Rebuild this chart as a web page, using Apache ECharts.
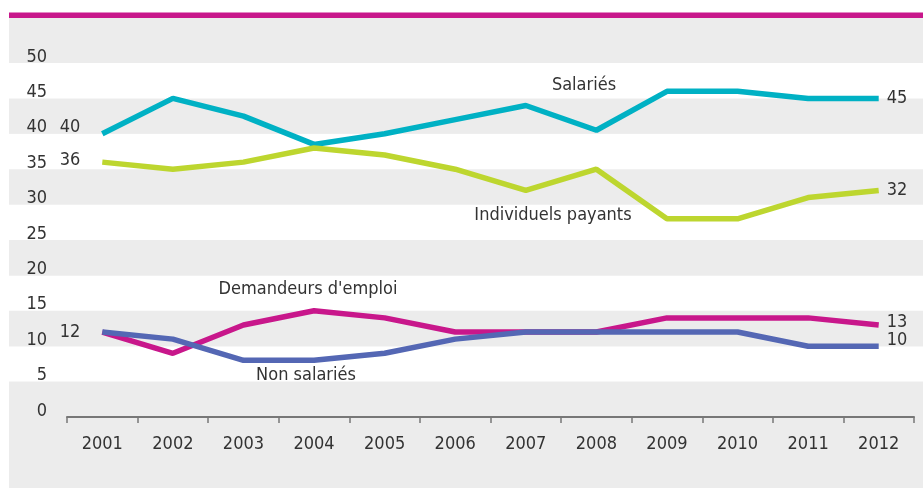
<!DOCTYPE html>
<html style="height: 100%">

<head>
  <meta charset="utf-8">
</head>

<body style="height: 100%; margin: 0">
  <div id="container" style="width: 923px; height: 488px"></div>
  <script type="text/javascript" src="https://cdn.jsdelivr.net/npm/echarts@6/dist/echarts.min.js"></script>
  <script type="text/javascript">
    var years = ['2001', '2002', '2003', '2004', '2005', '2006', '2007', '2008', '2009', '2010', '2011', '2012'];
    var salaries = [40, 45, 42.5, 38.5, 40, 42, 44, 40.5, 46, 46, 45, 45];
    var individuels = [36, 35, 36, 38, 37, 35, 32, 35, 28, 28, 31, 32];
    var demandeurs = [12, 9, 13, 15, 14, 12, 12, 12, 14, 14, 14, 13];
    var nonSalaries = [12, 11, 8, 8, 9, 11, 12, 12, 12, 12, 10, 10];

    var FONT = '"Liberation Sans Narrow", "DejaVu Sans Condensed", Roboto, sans-serif';
    var FS = 18;
    var TXT = '#333333';

    var dom = document.getElementById("container");
    var myChart = echarts.init(dom);

    // first point gets its value on the left
    function withStartLabel(arr, startOffset) {
      return arr.map(function (v, i) {
        if (i === 0 && startOffset) {
          return {
            value: v,
            label: {
              show: true, position: 'left', distance: 22, formatter: '{c}', offset: startOffset,
              color: TXT, fontFamily: FONT, fontSize: FS
            }
          };
        }
        return v;
      });
    }

    function line(name, data, color, startOffset, endOffset) {
      return {
        name: name,
        type: 'line',
        data: withStartLabel(data, startOffset),
        symbol: 'circle',
        symbolSize: 0,
        showSymbol: true,
        lineStyle: { color: color, width: 5.5 },
        itemStyle: { color: color },
        endLabel: {
          show: true, distance: 8, offset: endOffset || [0, 0],
          formatter: '{c}', color: TXT, fontFamily: FONT, fontSize: FS
        },
        z: 3
      };
    }

    var option = {
      animation: false,
      backgroundColor: '#ffffff',
      textStyle: { fontFamily: FONT },
      graphic: [
        { type: 'rect', shape: { x: 9, y: 18, width: 914, height: 470 }, style: { fill: '#ececec' }, z: -10 },
        { type: 'rect', shape: { x: 9, y: 12.5, width: 914, height: 5.5 }, style: { fill: '#c8178b' }, z: -10 },
        { type: 'text', x: 584, y: 85, style: { text: 'Salariés', fill: TXT, font: FS + 'px ' + FONT, align: 'center', verticalAlign: 'middle' } },
        { type: 'text', x: 553, y: 215, style: { text: 'Individuels payants', fill: TXT, font: FS + 'px ' + FONT, align: 'center', verticalAlign: 'middle' } },
        { type: 'text', x: 308, y: 289, style: { text: "Demandeurs d'emploi", fill: TXT, font: FS + 'px ' + FONT, align: 'center', verticalAlign: 'middle' } },
        { type: 'text', x: 306, y: 375, style: { text: 'Non salariés', fill: TXT, font: FS + 'px ' + FONT, align: 'center', verticalAlign: 'middle' } }
      ],
      grid: [
        { left: 67, right: 9, top: 63, bottom: 71 },
        { left: 9, right: 0, top: 63, bottom: 71 }
      ],
      xAxis: [{
        type: 'category',
        gridIndex: 0,
        data: years,
        boundaryGap: true,
        axisLine: { lineStyle: { color: '#777777', width: 2 } },
        axisTick: { show: true, length: 6, lineStyle: { color: '#777777', width: 1.5 } },
        axisLabel: { color: TXT, fontFamily: FONT, fontSize: FS, margin: 18 }
      }, {
        type: 'value',
        gridIndex: 1,
        show: false
      }],
      yAxis: [{
        type: 'value',
        gridIndex: 0,
        min: 0,
        max: 50,
        interval: 5,
        axisLine: { show: false },
        axisTick: { show: false },
        splitLine: { show: false },
        axisLabel: {
          color: TXT, fontFamily: FONT, fontSize: FS, margin: 20,
          verticalAlign: 'bottom', lineHeight: 12
        }
      }, {
        type: 'value',
        gridIndex: 1,
        min: 0,
        max: 50,
        interval: 5,
        axisLine: { show: false },
        axisTick: { show: false },
        axisLabel: { show: false },
        splitLine: { show: false },
        splitArea: { show: true, areaStyle: { color: ['#ececec', '#ffffff'] } },
        z: -5
      }],
      series: [
        line('Salariés', salaries, '#00b1c4', [0, -6]),
        line('Individuels payants', individuels, '#bdd62f', [0, -2]),
        line("Demandeurs d'emploi", demandeurs, '#c8178b', [0, 0], [0, -3]),
        line('Non salariés', nonSalaries, '#5467b4', null, [0, -6])
      ]
    };

    myChart.setOption(option);
  </script>
</body>

</html>
